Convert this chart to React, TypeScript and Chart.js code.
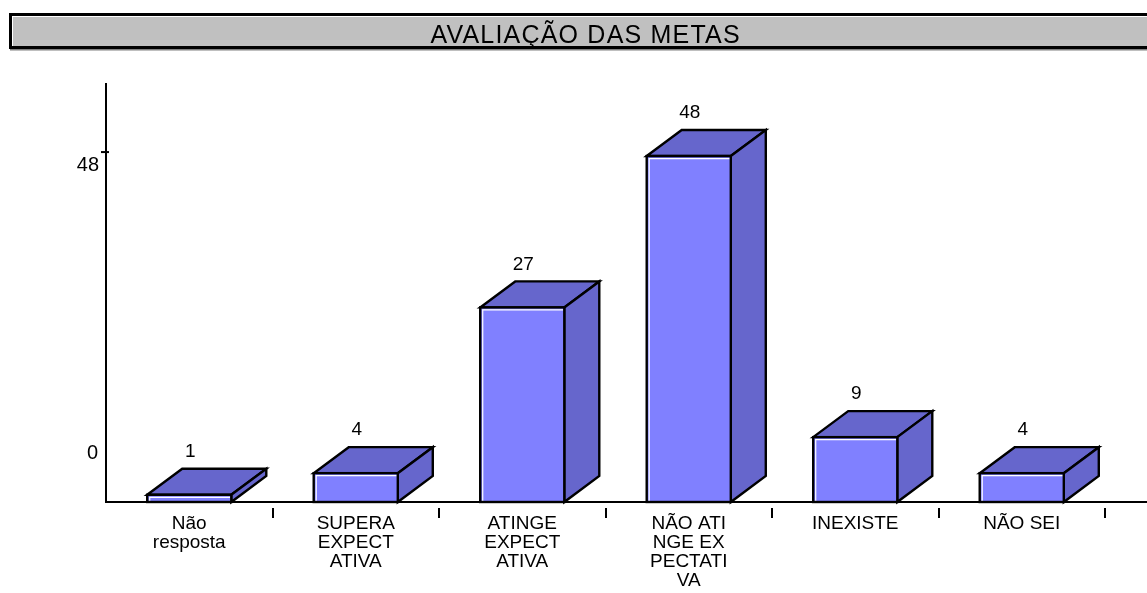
import React, { useEffect, useRef } from "react";
import { Chart, registerables } from "chart.js";

Chart.register(...registerables);

// ---- data ----
const TITLE = "AVALIAÇÃO DAS METAS";
const categories: string[][] = [
  ["Não", "resposta"],
  ["SUPERA", "EXPECT", "ATIVA"],
  ["ATINGE", "EXPECT", "ATIVA"],
  ["NÃO ATI", "NGE EX", "PECTATI", "VA"],
  ["INEXISTE"],
  ["NÃO SEI"],
];
const values: number[] = [1, 4, 27, 48, 9, 4];
const yTickValues: number[] = [0, 48];
const yTickLabels: string[] = ["0", "48"];
const Y_MAX = 58;

// ---- style ----
const FONT = '"Liberation Sans", Arial, Helvetica, sans-serif';
const FRONT = "#8080FF";
const SHADE = "#6666CC";
const DX = 35;
const DY = -26;

const excel3d = {
  id: "excel3d",
  beforeDraw(chart: any) {
    const ctx = chart.ctx;
    const W = chart.width;
    ctx.save();
    // title box
    ctx.fillStyle = "#000";
    ctx.fillRect(9, 13, W, 36);
    ctx.fillStyle = "#fff";
    ctx.fillRect(12, 16, W, 30);
    ctx.fillStyle = "#c0c0c0";
    ctx.fillRect(13, 17, W, 29);
    ctx.fillStyle = "#808080";
    ctx.fillRect(10, 49, W, 1.5);
    ctx.fillStyle = "#000";
    ctx.font = `25px ${FONT}`;
    (ctx as any).letterSpacing = "1.2px";
    ctx.textAlign = "center";
    ctx.textBaseline = "alphabetic";
    ctx.fillText(TITLE, 585 + 0.6, 42.5);
    (ctx as any).letterSpacing = "0px";
    ctx.restore();
  },
  afterDatasetsDraw(chart: any) {
    const ctx = chart.ctx;
    const area = chart.chartArea;
    const xs = chart.scales.x;
    const ys = chart.scales.y;
    const meta = chart.getDatasetMeta(0);
    ctx.save();
    ctx.lineJoin = "miter";
    ctx.lineWidth = 2.4;
    ctx.strokeStyle = "#000";

    meta.data.forEach((bar: any, i: number) => {
      const { x, y, base, width } = bar.getProps(["x", "y", "base", "width"], true);
      const L = x - width / 2;
      const R = x + width / 2;
      ctx.lineWidth = 2.4;
      // top face
      ctx.beginPath();
      ctx.moveTo(L, y);
      ctx.lineTo(L + DX, y + DY);
      ctx.lineTo(R + DX, y + DY);
      ctx.lineTo(R, y);
      ctx.closePath();
      ctx.fillStyle = SHADE;
      ctx.fill();
      ctx.stroke();
      // side face
      ctx.beginPath();
      ctx.moveTo(R, y);
      ctx.lineTo(R + DX, y + DY);
      ctx.lineTo(R + DX, base + DY);
      ctx.lineTo(R, base);
      ctx.closePath();
      ctx.fillStyle = SHADE;
      ctx.fill();
      ctx.stroke();
      // front face
      ctx.fillStyle = FRONT;
      ctx.fillRect(L, y, R - L, base - y);
      ctx.strokeStyle = "#fff";
      ctx.lineWidth = 1.2;
      ctx.beginPath();
      ctx.moveTo(L + 2.5, base);
      ctx.lineTo(L + 2.5, y + 2.5);
      ctx.lineTo(R - 1, y + 2.5);
      ctx.stroke();
      ctx.strokeStyle = "#000";
      ctx.lineWidth = 2.4;
      ctx.strokeRect(L, y, R - L, base - y);
      // value label
      ctx.fillStyle = "#000";
      ctx.font = `19px ${FONT}`;
      ctx.textAlign = "center";
      ctx.textBaseline = "middle";
      ctx.fillText(String(values[i]), x + 1, y + DY - 17);
    });

    ctx.lineWidth = 2;
    // extend baseline to canvas right edge
    const baseY = ys.getPixelForValue(0);
    ctx.beginPath();
    ctx.moveTo(area.right, baseY);
    ctx.lineTo(chart.width, baseY);
    ctx.stroke();

    // category separators below axis
    const step = xs.getPixelForValue(1) - xs.getPixelForValue(0);
    for (let i = 0; i < categories.length; i++) {
      const px = Math.round(xs.getPixelForValue(i) + step / 2);
      ctx.beginPath();
      ctx.moveTo(px, baseY + 6);
      ctx.lineTo(px, baseY + 16);
      ctx.stroke();
    }

    // y ticks + labels
    ctx.font = `20px ${FONT}`;
    ctx.textAlign = "right";
    ctx.textBaseline = "middle";
    ctx.fillStyle = "#000";
    yTickValues.forEach((v, i) => {
      const py = ys.getPixelForValue(v);
      if (v !== 0) {
        ctx.beginPath();
        ctx.moveTo(area.left - 5, py - 4);
        ctx.lineTo(area.left + 3, py - 4);
        ctx.stroke();
        ctx.fillText(yTickLabels[i], area.left - 7, py + 9);
      } else {
        ctx.fillText(yTickLabels[i], area.left - 8, py - 49);
      }
    });
    ctx.restore();
  },
};

export default function App() {
  const ref = useRef<HTMLCanvasElement | null>(null);
  useEffect(() => {
    document.body.style.margin = "0";
    const canvas = ref.current;
    if (!canvas) return;
    const chart = new Chart(canvas, {
      type: "bar",
      data: {
        labels: categories,
        datasets: [
          {
            data: values,
            backgroundColor: FRONT,
            borderWidth: 0,
            barPercentage: 0.505,
            categoryPercentage: 1,
          },
        ],
      },
      options: {
        responsive: false,
        animation: false,
        devicePixelRatio: 1,
        layout: { padding: { top: 84, right: 42, left: 0, bottom: 0 } },
        plugins: {
          legend: { display: false },
          tooltip: { enabled: false },
          title: { display: false },
        },
        scales: {
          x: {
            offset: true,
            grid: { display: false, drawTicks: false },
            border: { display: true, color: "#000", width: 2 },
            ticks: {
              autoSkip: false,
              maxRotation: 0,
              minRotation: 0,
              padding: 12,
              color: "#000",
              font: { family: FONT, size: 19, lineHeight: 1.0 },
            },
            afterFit: (s: any) => {
              s.height = 91;
            },
          },
          y: {
            min: 0,
            max: Y_MAX,
            grid: { display: false, drawTicks: false },
            border: { display: true, color: "#000", width: 2 },
            ticks: { display: false },
            afterBuildTicks: (s: any) => {
              s.ticks = yTickValues.map((v) => ({ value: v }));
            },
            afterFit: (s: any) => {
              s.width = 106;
            },
          },
        },
      },
      plugins: [excel3d],
    });
    return () => chart.destroy();
  }, []);
  return (
    <div style={{ position: "absolute", left: 0, top: 0, width: 1147, height: 593, background: "#fff" }}>
      <canvas ref={ref} width={1147} height={593} style={{ display: "block" }} />
    </div>
  );
}
